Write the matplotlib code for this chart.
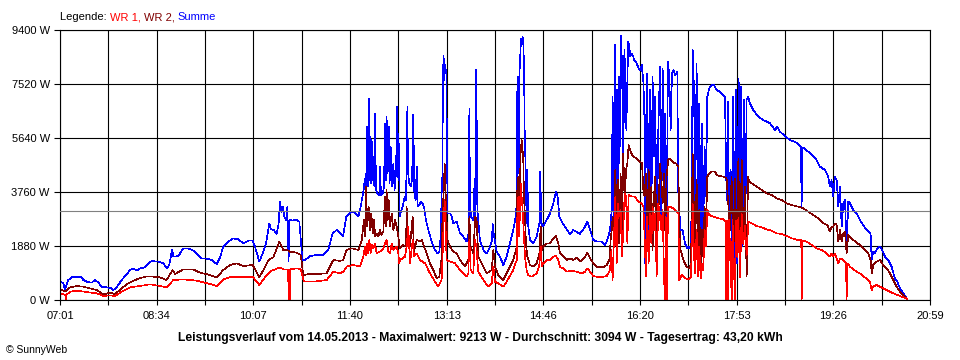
import matplotlib
matplotlib.use('Agg')
import matplotlib.pyplot as plt
import numpy as np

plt.rcParams['font.family'] = ['Liberation Sans', 'DejaVu Sans']

# time in minutes since midnight, power in W
summe_t = [421.7, 424.2, 425.8, 429.0, 432.3, 437.0, 441.9, 443.5, 446.7, 451.5, 454.7, 458.0, 461.2, 466.0, 470.8, 472.4,
           475.6, 480.4, 485.2, 488.4, 491.6, 494.9, 498.1, 502.9, 506.1, 509.3, 515.7, 520.5, 523.7, 526.3, 528.9, 530.2,
           535.0, 539.8, 544.6, 549.4, 554.2, 557.5, 562.3, 567.1, 571.9, 575.1, 578.3, 583.1, 588.0, 592.8, 597.6, 602.4,
           606.6, 608.8, 611.1, 613.0, 616.2, 619.4, 622.6, 624.2, 627.1, 629.7, 631.6, 632.9, 634.2, 635.5, 637.1, 638.7,
           640.0, 641.2, 641.9, 645.1, 648.3, 651.5, 653.1, 654.4, 657.0, 661.8, 668.2, 674.6, 679.4, 683.6, 687.5, 690.7,
           693.5, 696.8, 700.3, 705.1, 708.4, 710.6, 713.2, 714.8, 715.7, 717.0, 717.7, 718.6, 719.3, 719.9, 720.6, 721.2,
           721.8, 722.8, 723.8, 724.4, 725.4, 726.7, 728.6, 729.2, 730.2, 731.8, 733.1, 734.0, 735.0, 735.6, 736.6, 737.6,
           738.5, 739.5, 740.8, 742.1, 743.3, 744.6, 745.9, 746.9, 747.5, 748.2, 749.5, 751.1, 753.0, 754.3, 754.9, 755.6,
           756.2, 757.2, 758.8, 760.1, 761.3, 762.3, 763.6, 764.6, 765.5, 767.1, 768.7, 770.3, 771.9, 773.5, 775.8, 779.0,
           782.2, 784.5, 786.4, 787.7, 788.6, 789.3, 789.9, 790.5, 791.2, 791.8, 792.5, 793.1, 793.8, 794.4, 796.7, 798.3,
           799.9, 803.1, 806.3, 809.5, 812.7, 814.6, 815.3, 815.9, 816.9, 819.1, 820.4, 821.0, 822.0, 823.0, 825.5, 828.8,
           832.0, 835.2, 837.1, 837.7, 838.7, 841.6, 844.8, 848.0, 851.2, 854.4, 857.6, 859.9, 860.9, 861.5, 862.1, 862.8,
           863.7, 864.7, 865.3, 866.0, 866.6, 867.3, 867.9, 868.6, 869.5, 870.5, 871.1, 872.1, 873.7, 876.9, 880.1, 882.7,
           883.6, 884.6, 886.5, 889.7, 893.0, 896.2, 898.7, 900.3, 902.0, 904.2, 907.4, 912.2, 915.4, 918.6, 921.8, 926.7,
           928.9, 931.5, 934.7, 937.9, 942.7, 946.0, 948.2, 950.8, 952.4, 953.3, 954.6, 955.6, 956.5, 957.8, 958.8, 959.7,
           960.4, 961.4, 962.3, 963.6, 964.6, 965.5, 966.5, 967.5, 968.4, 969.4, 970.3, 971.3, 972.6, 974.2, 976.4, 978.4,
           979.7, 981.3, 982.9, 983.8, 984.5, 985.4, 986.7, 988.0, 989.3, 990.6, 991.8, 993.1, 994.4, 995.7, 997.3, 998.9,
           1000.2, 1001.5, 1002.8, 1004.0, 1005.3, 1006.6, 1007.9, 1009.2, 1010.5, 1011.8, 1013.4, 1015.6, 1016.6, 1017.5,
           1018.8, 1020.7, 1023.0, 1025.2, 1027.2, 1028.8, 1029.7, 1030.4, 1031.7, 1032.9, 1034.2, 1035.5, 1036.8, 1038.1,
           1039.4, 1040.6, 1041.9, 1043.2, 1044.5, 1046.4, 1048.7, 1050.9, 1053.5, 1056.7, 1059.3, 1061.5, 1063.1, 1064.4,
           1065.7, 1067.0, 1068.3, 1069.5, 1070.8, 1072.1, 1073.4, 1074.7, 1076.0, 1077.2, 1078.5, 1079.8, 1081.1, 1082.4,
           1083.7, 1085.6, 1088.8, 1093.6, 1098.4, 1104.9, 1109.7, 1111.9, 1114.5, 1119.3, 1124.1, 1130.5, 1134.7, 1135.3,
           1136.3, 1141.8, 1146.6, 1149.8, 1153.0, 1157.8, 1161.0, 1162.6, 1164.2, 1165.8, 1167.4, 1169.1, 1170.7, 1172.3,
           1173.9, 1175.5, 1177.1, 1178.7, 1180.3, 1181.9, 1185.1, 1188.3, 1191.5, 1194.7, 1197.9, 1201.8, 1202.8, 1204.4,
           1206.0, 1208.2, 1210.8, 1213.0, 1215.6, 1218.8, 1222.0, 1225.2, 1227.5, 1230.0, 1233.3, 1235.8, 1237.1]
summe_w = [638, 580, 348, 696, 789, 812, 789, 696, 638, 603, 696, 603, 464, 441, 406, 348,
           441, 696, 893, 1044, 1102, 1021, 1102, 1137, 1276, 1357, 1334, 1276, 1102, 1218, 1763, 1508,
           1531, 1798, 1798, 1717, 1566, 1450, 1438, 1392, 1253, 1485, 1856, 2030, 2146, 2111, 1972, 2065,
           2065, 1856, 1566, 1334, 1624, 1972, 2668, 2459, 2436, 2297, 2668, 3422, 3074, 3248, 2900, 2784,
           3248, 1334, 2807, 2761, 2807, 2726, 2030, 1392, 1392, 1531, 1566, 1566, 1740, 2320, 2436, 2321,
           2210, 2900, 3040, 3040, 2901, 3249, 3772, 4236, 3830, 6035, 3946, 7021, 4178, 5686, 4062, 5570,
           4178, 4990, 3946, 6499, 3830, 3714, 3656, 4642, 3656, 3714, 3946, 6151, 4178, 6383, 4410, 6035,
           4062, 5338, 3946, 4758, 3830, 4410, 6731, 4178, 5454, 2901, 3100, 3249, 3597, 3481, 4874, 6731,
           4526, 4062, 3946, 4178, 6441, 3714, 3481, 4642, 3249, 3307, 3423, 3365, 3191, 2785, 2437, 2031,
           1741, 1625, 1683, 2205, 3714, 4294, 7891, 8495, 7659, 8181, 8008, 7891, 4874, 3017, 3017, 2901,
           2669, 2727, 2321, 2205, 2031, 2321, 6673, 3481, 2901, 2785, 4236, 2785, 8032, 3133, 2089, 1741,
           1625, 1857, 2089, 2669, 2321, 1683, 1509, 1219, 1509, 1973, 2437, 2901, 3365, 7311, 7775, 4410,
           8008, 8820, 9110, 8936, 9168, 8878, 8240, 5918, 4526, 2669, 4526, 2553, 2089, 1973, 2205, 2669,
           4468, 2669, 2553, 2785, 3017, 3365, 3772, 3598, 2901, 2727, 2553, 2298, 2437, 2379, 2298, 2553,
           2727, 2437, 2089, 2031, 2031, 1915, 2089, 2437, 3133, 7079, 2785, 8878, 3598, 7311, 2901, 7775,
           5338, 9213, 8240, 4758, 8704, 7891, 5918, 7659, 8994, 8820, 8472, 8588, 8530, 8356, 8240, 8065,
           8008, 8181, 7601, 6615, 1277, 5918, 7891, 1857, 7311, 2669, 7775, 4990, 7079, 1393, 5918, 8123,
           2669, 8065, 3946, 6499, 2205, 8297, 7775, 5918, 7891, 8008, 7833, 7949, 3598, 3133,
           2437, 2437, 1973, 1799, 1857, 1741, 4758, 8704, 7311, 3365, 8240, 1973, 6847, 1625,
           6151, 2437, 5338, 3598, 7079, 7369, 7485, 7485, 7311, 7253, 7137, 7079, 3481, 6905,
           2321, 4526, 1277, 7079, 1044, 7311, 1277, 7717, 812, 7427, 1857, 6963, 2437, 6963,
           7079, 6847, 6615, 6383, 6267, 6151, 5919, 6035, 5860, 5710, 5570, 5477, 5338, 3191,
           5315, 5164, 4990, 4874, 4642, 4526, 4294, 3946, 4178, 3597, 4294, 4178, 3249, 3946,
           2553, 3365, 3481, 1857, 3423, 3365, 3133, 3017, 2785, 2611, 2437, 2321, 1393, 1683,
           1625, 1799, 1857, 1741, 1509, 1393, 1161, 754, 638, 406, 232, 93, 0]

wr2_t = [421.7, 425.8, 430.7, 437.0, 443.5, 449.9, 456.3, 462.8, 469.2, 474.0, 480.4, 486.8, 494.9, 502.9, 510.9, 517.3,
         523.7, 529.5, 531.8, 539.8, 549.4, 555.9, 565.5, 571.9, 578.3, 584.7, 591.2, 597.6, 606.6, 613.0, 618.4, 621.7,
         626.5, 632.3, 636.1, 640.0, 642.5, 649.0, 652.8, 655.4, 661.8, 668.2, 677.8, 684.3, 690.7, 693.9, 697.1, 701.9,
         708.4, 711.6, 713.8, 715.1, 715.7, 717.0, 718.3, 719.6, 720.9, 722.2, 723.4, 724.7, 726.0, 727.6, 729.2, 730.8,
         732.4, 734.0, 735.0, 735.6, 736.6, 737.6, 738.9, 740.5, 742.1, 743.7, 745.3, 746.9, 747.8, 748.5, 751.7, 754.3,
         754.9, 755.9, 758.1, 760.7, 762.0, 764.6, 767.8, 769.4, 771.6, 774.2, 777.4, 780.6, 783.8, 786.4, 788.3, 789.6,
         790.5, 791.5, 792.2, 792.8, 794.1, 796.7, 799.9, 803.1, 806.3, 811.1, 814.3, 815.3, 816.6, 819.1, 821.0, 822.3,
         823.9, 827.1, 832.0, 836.8, 838.4, 840.0, 843.2, 848.0, 852.8, 857.6, 860.9, 861.5, 862.5, 863.4, 864.7, 865.7,
         866.6, 867.3, 867.9, 868.9, 869.8, 871.1, 873.7, 876.9, 880.1, 882.7, 884.0, 885.2, 886.5, 889.7, 893.0, 896.2,
         898.7, 901.0, 902.6, 905.8, 909.0, 912.2, 915.4, 918.6, 921.8, 926.7, 928.9, 931.5, 934.7, 937.9, 944.3, 947.6,
         950.1, 951.4, 952.4, 953.3, 954.6, 955.9, 957.2, 958.5, 959.7, 961.0, 962.3, 963.6, 964.9, 966.2, 967.5, 968.7,
         970.0, 971.3, 973.2, 976.4, 979.7, 981.6, 982.9, 984.1, 985.4, 986.7, 988.0, 989.3, 990.6, 991.8, 993.1, 994.4,
         995.7, 997.3, 998.9, 1000.2, 1001.5, 1002.8, 1004.0, 1005.3, 1006.9, 1008.5, 1011.8, 1014.3, 1016.6, 1017.5,
         1018.8, 1021.4, 1024.6, 1027.2, 1028.8, 1030.4, 1031.7, 1032.9, 1034.2, 1035.5, 1036.8, 1038.1, 1039.4, 1040.6,
         1041.9, 1043.2, 1044.5, 1046.4, 1048.7, 1051.9, 1053.5, 1056.7, 1059.9, 1063.1, 1066.3, 1067.9, 1069.5, 1071.1,
         1072.7, 1074.4, 1076.0, 1077.6, 1079.2, 1080.8, 1082.4, 1083.7, 1084.9, 1087.2, 1092.0, 1096.8, 1101.6, 1106.5,
         1111.3, 1116.1, 1120.9, 1125.7, 1132.1, 1137.0, 1141.8, 1146.6, 1151.4, 1156.2, 1160.1, 1162.6, 1164.2, 1165.8,
         1167.4, 1169.1, 1170.7, 1172.3, 1173.9, 1175.5, 1177.1, 1178.7, 1180.3, 1181.9, 1185.1, 1188.3, 1191.5, 1194.7,
         1197.9, 1199.5, 1201.8, 1202.8, 1204.4, 1206.0, 1207.6, 1210.8, 1214.0, 1217.2, 1220.4, 1223.6, 1226.8, 1230.0,
         1233.3, 1236.5, 1237.1]
wr2_w = [371, 290, 441, 487, 464, 406, 348, 197, 255, 209, 406, 580, 719, 812, 812, 789,
         696, 1044, 905, 1067, 1067, 951, 870, 789, 1044, 1218, 1276, 1183, 1218, 789, 1137, 1392,
         1485, 2030, 1740, 1740, 1682, 1647, 1566, 870, 905, 905, 928, 1392, 1360, 1393, 1741, 1799,
         1741, 2089, 2785, 2205, 3946, 2553, 3249, 2437, 3017, 2321, 2785, 2205, 2321, 2205, 2437, 2263,
         2379, 3598, 2553, 3830, 2785, 3482, 2553, 3017, 2437, 2785, 2553, 2205, 1915, 1799, 1915, 1857,
         3249, 2089, 1857, 2901, 1683, 2089, 2031, 2089, 1857, 1625, 1277, 1044, 754, 812, 1393, 3133,
         3714, 4758, 3946, 3365, 2089, 1857, 1683, 1625, 1393, 1161, 1393, 2901, 1857, 1625, 2901, 2785,
         1509, 1277, 928, 1044, 1741, 1161, 870, 696, 1044, 1393, 1857, 3830, 4294, 2901, 5106, 5570,
         5222, 4758, 3598, 2901, 1973, 1509, 1219, 1161, 1277, 1625, 2553, 1741, 1857, 1973, 1973, 2147,
         2228, 1973, 1625, 1509, 1393, 1451, 1393, 1485, 1335, 1509, 1648, 1451, 1277, 1161, 1137, 1219,
         1393, 2089, 2437, 2901, 2205, 4526, 2669, 4178, 1973, 4410, 2437, 5106, 3365, 4526, 4758, 5396,
         5222, 5106, 4990, 4932, 4816, 4758, 3830, 3598, 4410, 1857, 4526, 2669, 3946, 1741, 3598, 4294,
         2205, 2901, 4758, 4178, 3365, 4410, 2437, 4294, 4874, 4932, 4781, 4758, 4642, 2669,
         1741, 1393, 1161, 1103, 1277, 5106, 2901, 1973, 4178, 1277, 3133, 928, 2437, 1509,
         3249, 2437, 4294, 4410, 4468, 4468, 4352, 4317, 4294, 4236, 2437, 4294, 1277, 4236,
         1857, 4900, 1044, 4874, 2205, 3946, 812, 4294, 4120, 4062, 3946, 3830, 3714, 3656,
         3539, 3481, 3365, 3307, 3249, 3191, 3075, 2959, 2843, 2669, 2611, 2379, 2530, 2553,
         2670, 2611, 2031, 2437, 2031, 2321, 2379, 1625, 2263, 2205, 2089, 1996, 1915, 1799,
         1683, 1625, 1393, 928, 1219, 1277, 1335, 1393, 1219, 1103, 928, 696, 464, 290,
         174, 58, 0]

wr1_t = [421.7, 425.8, 426.5, 426.8, 427.1, 430.7, 437.0, 446.7, 456.3, 462.8, 469.2, 474.0, 480.4, 488.4, 498.1, 507.7,
         517.3, 523.7, 530.2, 539.8, 552.6, 565.5, 571.9, 578.3, 586.4, 597.6, 606.6, 613.0, 620.0, 624.9, 632.9, 636.1,
         640.8, 641.1, 641.5, 642.3, 642.6, 649.0, 652.8, 656.0, 665.0, 677.8, 684.3, 690.7, 693.9, 697.1, 703.5, 710.0,
         713.2, 714.8, 715.7, 716.4, 717.7, 719.0, 720.2, 721.5, 722.8, 724.4, 726.0, 729.2, 732.4, 734.0, 735.6, 737.2,
         738.9, 740.5, 742.1, 745.3, 746.9, 747.8, 748.5, 753.3, 754.9, 756.5, 758.1, 760.7, 762.0, 764.6, 767.8, 772.6,
         777.4, 782.2, 785.4, 788.6, 789.6, 790.5, 791.5, 792.5, 793.4, 796.7, 801.5, 806.3, 812.7, 814.3, 815.3, 816.6,
         819.1, 820.7, 822.0, 823.9, 828.8, 833.6, 836.8, 838.4, 840.0, 843.2, 848.0, 851.2, 857.6, 860.9, 861.5, 862.5,
         863.4, 864.7, 865.7, 866.6, 867.9, 868.9, 870.5, 872.1, 875.3, 880.1, 882.7, 884.0, 885.2, 886.5, 889.7, 893.0,
         896.2, 898.7, 901.0, 902.6, 905.8, 909.0, 913.8, 918.6, 923.5, 926.7, 928.9, 931.5, 934.7, 941.1, 947.6, 950.8,
         952.1, 953.3, 954.6, 955.9, 957.2, 958.5, 959.7, 961.0, 962.3, 963.6, 964.9, 966.2, 967.5, 968.7, 971.6, 974.8,
         978.1, 981.3, 982.9, 984.1, 985.4, 986.7, 988.0, 989.3, 990.6, 991.8, 993.1, 994.4, 995.7, 997.3, 998.9, 1000.2,
         1001.5, 1002.8, 1003.7, 1004.4, 1005.7, 1006.6, 1008.5, 1011.8, 1015.0, 1016.6, 1017.5, 1019.8, 1023.0, 1026.2,
         1028.8, 1030.4, 1031.7, 1032.9, 1034.2, 1035.5, 1036.8, 1038.1, 1039.4, 1040.6, 1041.9, 1043.2, 1044.5, 1046.4,
         1050.3, 1055.1, 1059.9, 1062.0, 1062.5, 1063.2, 1064.7, 1065.5, 1068.0, 1068.8, 1071.1, 1071.9, 1073.4, 1074.4,
         1076.0, 1077.6, 1079.2, 1080.8, 1082.4, 1084.0, 1087.2, 1092.0, 1096.8, 1101.6, 1106.5, 1111.3, 1116.1, 1120.9,
         1125.7, 1132.1, 1135.0, 1135.4, 1136.0, 1140.2, 1145.0, 1149.8, 1154.6, 1159.4, 1162.6, 1164.2, 1165.8, 1167.4,
         1169.1, 1170.7, 1172.3, 1175.5, 1178.1, 1178.7, 1179.3, 1181.9, 1185.1, 1188.3, 1191.5, 1194.7, 1197.9, 1201.2,
         1202.8, 1204.4, 1207.6, 1210.8, 1214.0, 1217.2, 1220.4, 1223.6, 1230.0, 1236.5, 1237.1]
wr1_w = [232, 174, 174, 0, 174, 290, 325, 278, 232, 139, 162, 139, 290, 441, 487, 545,
         487, 441, 696, 719, 673, 557, 487, 719, 812, 789, 812, 522, 870, 1021, 1137, 1067,
         1067, 0, 1067, 0, 1067, 1102, 1067, 638, 638, 696, 986, 928, 986, 1161, 1219, 1161,
         1509, 1857, 1567, 1973, 1625, 2089, 1625, 1915, 1799, 1973, 1625, 1683, 1799, 1973, 2089, 1683,
         1625, 1973, 1741, 1857, 1625, 1277, 1393, 1509, 1857, 2553, 1277, 2089, 1509, 1625, 1393, 1277,
         928, 638, 464, 696, 1625, 2669, 3481, 2321, 1393, 1335, 1277, 1044, 812, 928, 2089, 1044,
         928, 2089, 1857, 986, 696, 464, 580, 1161, 638, 580, 464, 638, 1044, 1393, 2901, 3598,
         2205, 4062, 3598, 3133, 2205, 1509, 1044, 870, 812, 928, 1219, 1857, 1161, 1277, 1393, 1393,
         1509, 1532, 1393, 1137, 1103, 986, 1021, 986, 928, 986, 1103, 986, 835, 789, 835, 1044,
         1741, 696, 2205, 3598, 1277, 3365, 2901, 3133, 1509, 2437, 3714, 3598, 1973, 3655, 3598, 3598,
         3423, 3365, 3249, 2205, 812, 2901, 1277, 3017, 1973, 3249, 2437, 3017, 812, 3365, 2901, 2437,
         3133, 812, 0, 2901, 0, 3249, 3249, 3191, 3075, 3017, 696, 870, 754, 719,
         812, 3365, 1509, 928, 2437, 812, 1857, 754, 1277, 1044, 2437, 1857, 3133, 2959,
         2901, 2843, 2808, 2750, 0, 2750, 0, 2780, 0, 2780, 0, 2750, 1500, 2850,
         800, 3000, 1950, 2600, 1550, 2727, 2669, 2576, 2530, 2460, 2414, 2321, 2298, 2228,
         2147, 2089, 2089, 0, 2066, 2031, 1915, 1799, 1741, 1625, 1509, 1625, 1509, 1625,
         1451, 1277, 1451, 1393, 1277, 0, 1277, 1161, 1068, 986, 928, 812, 754, 638,
         348, 464, 522, 464, 406, 348, 290, 232, 139, 58, 0]

t_start = 7 * 60 + 1
t_end = 20 * 60 + 59
x_labels = ['07:01', '08:34', '10:07', '11:40', '13:13', '14:46', '16:20', '17:53', '19:26', '20:59']
y_ticks = [0, 1880, 3760, 5640, 7520, 9400]
durchschnitt = 3094
title = ('Leistungsverlauf vom 14.05.2013 - Maximalwert: 9213 W - Durchschnitt: 3094 W'
         ' - Tagesertrag: 43,20 kWh')

fig = plt.figure(figsize=(9.6, 3.6), dpi=100)
ax = fig.add_axes([60 / 960, 60 / 360, 870 / 960, 270 / 360])

ax.plot(summe_t, summe_w, color='#0000ff', lw=0.45, antialiased=False)
ax.plot(wr2_t, wr2_w, color='#800000', lw=0.45, antialiased=False)
ax.plot(wr1_t, wr1_w, color='#ff0000', lw=0.45, antialiased=False)
ax.axhline(durchschnitt, color='#808080', lw=0.8, zorder=3)

ax.set_xlim(t_start, t_end)
ax.set_ylim(0, 9400)
xt = np.linspace(t_start, t_end, 19)
ax.set_xticks(xt)
lbls = []
for i in range(19):
    lbls.append(x_labels[i // 2] if i % 2 == 0 else '')
ax.set_xticklabels(lbls)
ax.set_yticks(y_ticks)
ax.set_yticklabels(['%d W' % v for v in y_ticks])
ax.tick_params(axis='x', length=3.6, width=0.8, pad=4, labelsize=8)
ax.tick_params(axis='y', length=4.3, width=0.8, pad=3, labelsize=8)
ax.grid(True, color='black', lw=0.8)
for s in ax.spines.values():
    s.set_linewidth(0.8)

# legend line with coloured words
parts = [('Legende: ', 'black'), ('WR 1, ', '#ff0000'), ('WR 2, ', '#800000'), ('Summe', '#0000ff')]
txt = fig.text(60 / 960, 1 - 20 / 360, parts[0][0], color=parts[0][1], fontsize=8, va='baseline')
for s, c in parts[1:]:
    txt = ax.annotate(s, xy=(1, 0), xycoords=txt, color=c, fontsize=8, va='bottom')

fig.text(0.5, 1 - 341 / 360, title, ha='center', va='baseline', fontsize=8.7, fontweight='bold')
fig.text(6 / 960, 1 - 353 / 360, '\u00a9 SunnyWeb', fontsize=7.5, va='baseline')

plt.savefig('out.png', dpi=100)
